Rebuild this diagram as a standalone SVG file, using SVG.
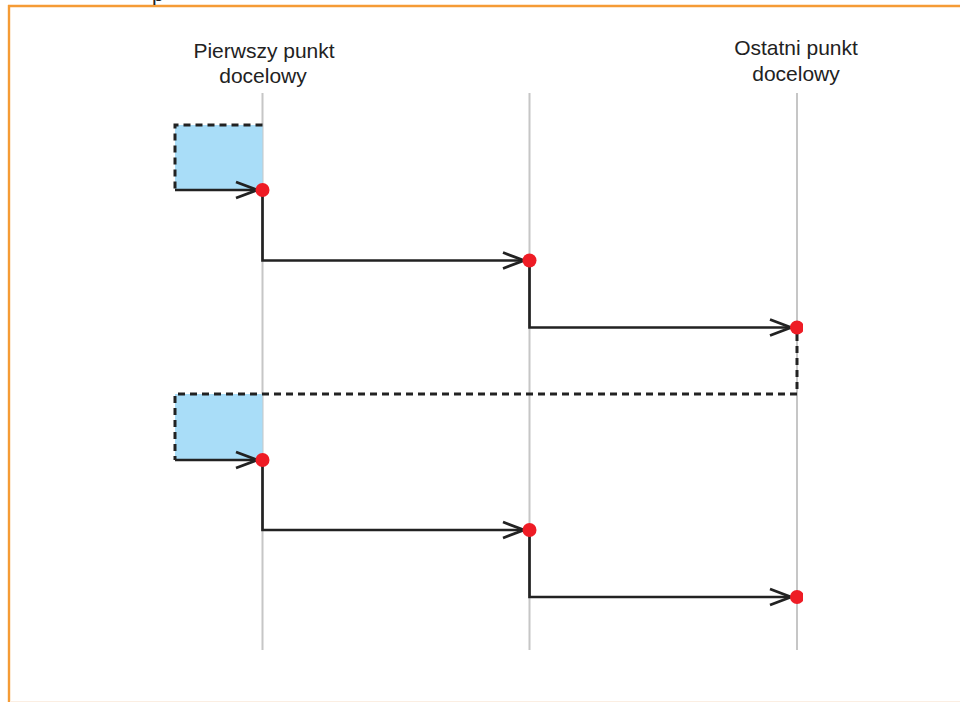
<svg xmlns="http://www.w3.org/2000/svg" width="960" height="702" viewBox="0 0 960 702">
  <style>
    .label { font-family: "Liberation Sans", Arial, Helvetica, sans-serif; font-size: 21px; fill: #222222; text-anchor: middle; }
    .guide { stroke: #c6c6c6; stroke-width: 2; fill: none; }
    .flow { stroke: #222222; stroke-width: 2.7; fill: none; stroke-linejoin: miter; }
    .dash { stroke: #222222; stroke-width: 3; fill: none; stroke-dasharray: 7 5; }
    .zone { fill: #a9ddf8; }
    .dot { fill: #ee1c25; }
    .head { stroke: #222222; stroke-width: 2.8; fill: none; stroke-linecap: butt; stroke-linejoin: miter; }
  </style>
  <defs>
    <clipPath id="edgeClip">
      <rect x="0" y="0" width="803" height="702"/>
    </clipPath>
  </defs>

  <rect x="0" y="0" width="960" height="702" fill="#ffffff"/>

  <!-- frame -->
  <g id="frame">
    <line x1="8" y1="6" x2="960" y2="6" stroke="#f59b35" stroke-width="2.4"/>
    <line x1="9" y1="5" x2="9" y2="702" stroke="#f59b35" stroke-width="2.4"/>
    <line x1="10" y1="701.5" x2="960" y2="701.5" stroke="#fbeee2" stroke-width="1"/>
    <text x="152" y="0.5" class="label" style="text-anchor:start">p</text>
  </g>

  <!-- column headings -->
  <g id="label-first">
    <text x="264" y="58" class="label">Pierwszy punkt</text>
    <text x="263" y="83" class="label">docelowy</text>
  </g>
  <g id="label-last">
    <text x="796" y="55" class="label">Ostatni punkt</text>
    <text x="796" y="81" class="label">docelowy</text>
  </g>

  <!-- vertical guides -->
  <g id="guides">
    <line x1="262.5" y1="93" x2="262.5" y2="650" class="guide"/>
    <line x1="529.5" y1="93" x2="529.5" y2="650" class="guide"/>
    <line x1="797" y1="93" x2="797" y2="650" class="guide"/>
  </g>

  <!-- shaded zones -->
  <g id="zone-1">
    <rect x="175" y="125" width="87.5" height="65" class="zone"/>
  </g>
  <g id="zone-2">
    <rect x="175" y="394" width="87.5" height="66" class="zone"/>
  </g>

  <!-- connectors -->
  <g id="connectors">
    <!-- first pass -->
    <path d="M262.5,125 H175 V190" class="dash"/>
    <path d="M175,190 H256" class="flow"/>
    <path d="M236,182 L257,190 L236,198" class="head"/>
    <path d="M262.5,190 V260.5 H522" class="flow"/>
    <path d="M503,252.5 L524,260.5 L503,268.5" class="head"/>
    <path d="M529.5,260.5 V327.5 H790" class="flow"/>
    <path d="M770,319.5 L791,327.5 L770,335.5" class="head"/>

    <!-- return leg -->
    <path d="M797,334 V394 H175 V460" class="dash"/>

    <!-- second pass -->
    <path d="M175,460 H256" class="flow"/>
    <path d="M236,452 L257,460 L236,468" class="head"/>
    <path d="M262.5,460 V530 H522" class="flow"/>
    <path d="M503,522 L524,530 L503,538" class="head"/>
    <path d="M529.5,530 V597 H790" class="flow"/>
    <path d="M770,589 L791,597 L770,605" class="head"/>
  </g>

  <!-- waypoints -->
  <g id="waypoints" clip-path="url(#edgeClip)">
    <circle cx="262.5" cy="190" r="7" class="dot"/>
    <circle cx="529.5" cy="260.5" r="7" class="dot"/>
    <circle cx="797" cy="327.5" r="7" class="dot"/>
    <circle cx="262.5" cy="460" r="7" class="dot"/>
    <circle cx="529.5" cy="530" r="7" class="dot"/>
    <circle cx="797" cy="597" r="7" class="dot"/>
  </g>
</svg>
